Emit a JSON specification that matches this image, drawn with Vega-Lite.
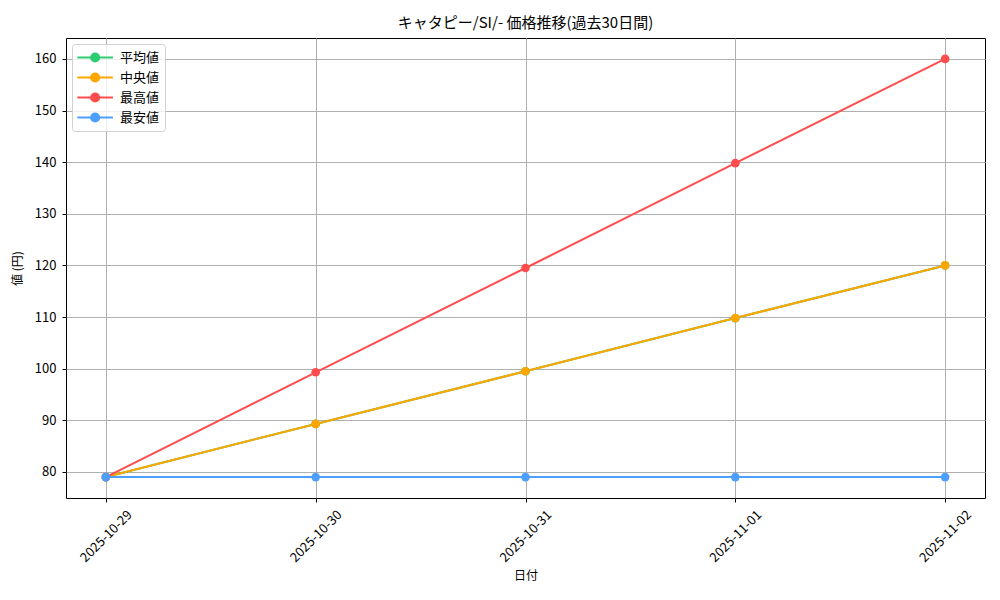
{
  "$schema": "https://vega.github.io/schema/vega-lite/v6.json",
  "autosize": "none",
  "width": 919,
  "height": 460,
  "padding": {"left": 66, "top": 38, "right": 15, "bottom": 102},
  "background": "white",
  "config": {
    "font": "Noto Sans CJK JP",
    "view": {"stroke": "black", "strokeWidth": 1},
    "axis": {
      "labelFont": "Noto Sans CJK JP",
      "titleFont": "Noto Sans CJK JP",
      "labelFontSize": 13,
      "titleFontSize": 12,
      "titleFontWeight": "normal",
      "labelColor": "black",
      "titleColor": "black",
      "gridColor": "#b0b0b0",
      "gridWidth": 1,
      "tickColor": "black",
      "tickSize": 4,
      "domain": false
    }
  },
  "title": {
    "text": "キャタピー/SI/- 価格推移(過去30日間)",
    "fontSize": 15,
    "fontWeight": "normal",
    "font": "Noto Sans CJK JP",
    "color": "black",
    "offset": 7
  },
  "data": {
    "values": [
      {"date": "2025-10-29", "series": "平均値", "price": 79},
      {"date": "2025-10-30", "series": "平均値", "price": 89.3},
      {"date": "2025-10-31", "series": "平均値", "price": 99.5},
      {"date": "2025-11-01", "series": "平均値", "price": 109.8},
      {"date": "2025-11-02", "series": "平均値", "price": 120},
      {"date": "2025-10-29", "series": "中央値", "price": 79},
      {"date": "2025-10-30", "series": "中央値", "price": 89.3},
      {"date": "2025-10-31", "series": "中央値", "price": 99.5},
      {"date": "2025-11-01", "series": "中央値", "price": 109.8},
      {"date": "2025-11-02", "series": "中央値", "price": 120},
      {"date": "2025-10-29", "series": "最高値", "price": 79},
      {"date": "2025-10-30", "series": "最高値", "price": 99.3},
      {"date": "2025-10-31", "series": "最高値", "price": 119.5},
      {"date": "2025-11-01", "series": "最高値", "price": 139.8},
      {"date": "2025-11-02", "series": "最高値", "price": 160},
      {"date": "2025-10-29", "series": "最安値", "price": 79},
      {"date": "2025-10-30", "series": "最安値", "price": 79},
      {"date": "2025-10-31", "series": "最安値", "price": 79},
      {"date": "2025-11-01", "series": "最安値", "price": 79},
      {"date": "2025-11-02", "series": "最安値", "price": 79}
    ]
  },
  "encoding": {
    "x": {
      "field": "date",
      "type": "ordinal",
      "title": "日付",
      "scale": {"type": "point", "padding": 0.19},
      "axis": {"labelAngle": -45, "labelAlign": "center", "labelBaseline": "middle", "labelPadding": 34, "grid": true, "titlePadding": 6}
    },
    "y": {
      "field": "price",
      "type": "quantitative",
      "title": "値 (円)",
      "scale": {"domain": [74.95, 164.05], "nice": false, "zero": false},
      "axis": {"values": [80, 90, 100, 110, 120, 130, 140, 150, 160], "grid": true, "labelPadding": 6, "titlePadding": 10}
    },
    "color": {
      "field": "series",
      "type": "nominal",
      "sort": null,
      "scale": {
        "domain": ["平均値", "中央値", "最高値", "最安値"],
        "range": ["#2ecc71", "#ffa500", "#ff4d4d", "#4d9fff"]
      },
      "legend": {
        "title": null,
        "orient": "top-left",
        "offset": 6,
        "labelFontSize": 13,
        "labelFont": "Noto Sans CJK JP",
        "labelColor": "black",
        "symbolType": "M-1.1,0H3.7M0.75,0A0.55,0.55,0,1,1,1.85,0A0.55,0.55,0,1,1,0.75,0Z",
        "symbolSize": 220,
        "symbolStrokeWidth": 2,
        "symbolOpacity": 1,
        "rowPadding": 3,
        "labelOffset": 26,
        "padding": 5,
        "strokeColor": "#d0d0d0",
        "fillColor": "rgba(255,255,255,0.8)",
        "cornerRadius": 3
      }
    }
  },
  "layer": [
    {"mark": {"type": "line", "strokeWidth": 2}},
    {"mark": {"type": "point", "filled": true, "size": 75, "opacity": 1}}
  ]
}
